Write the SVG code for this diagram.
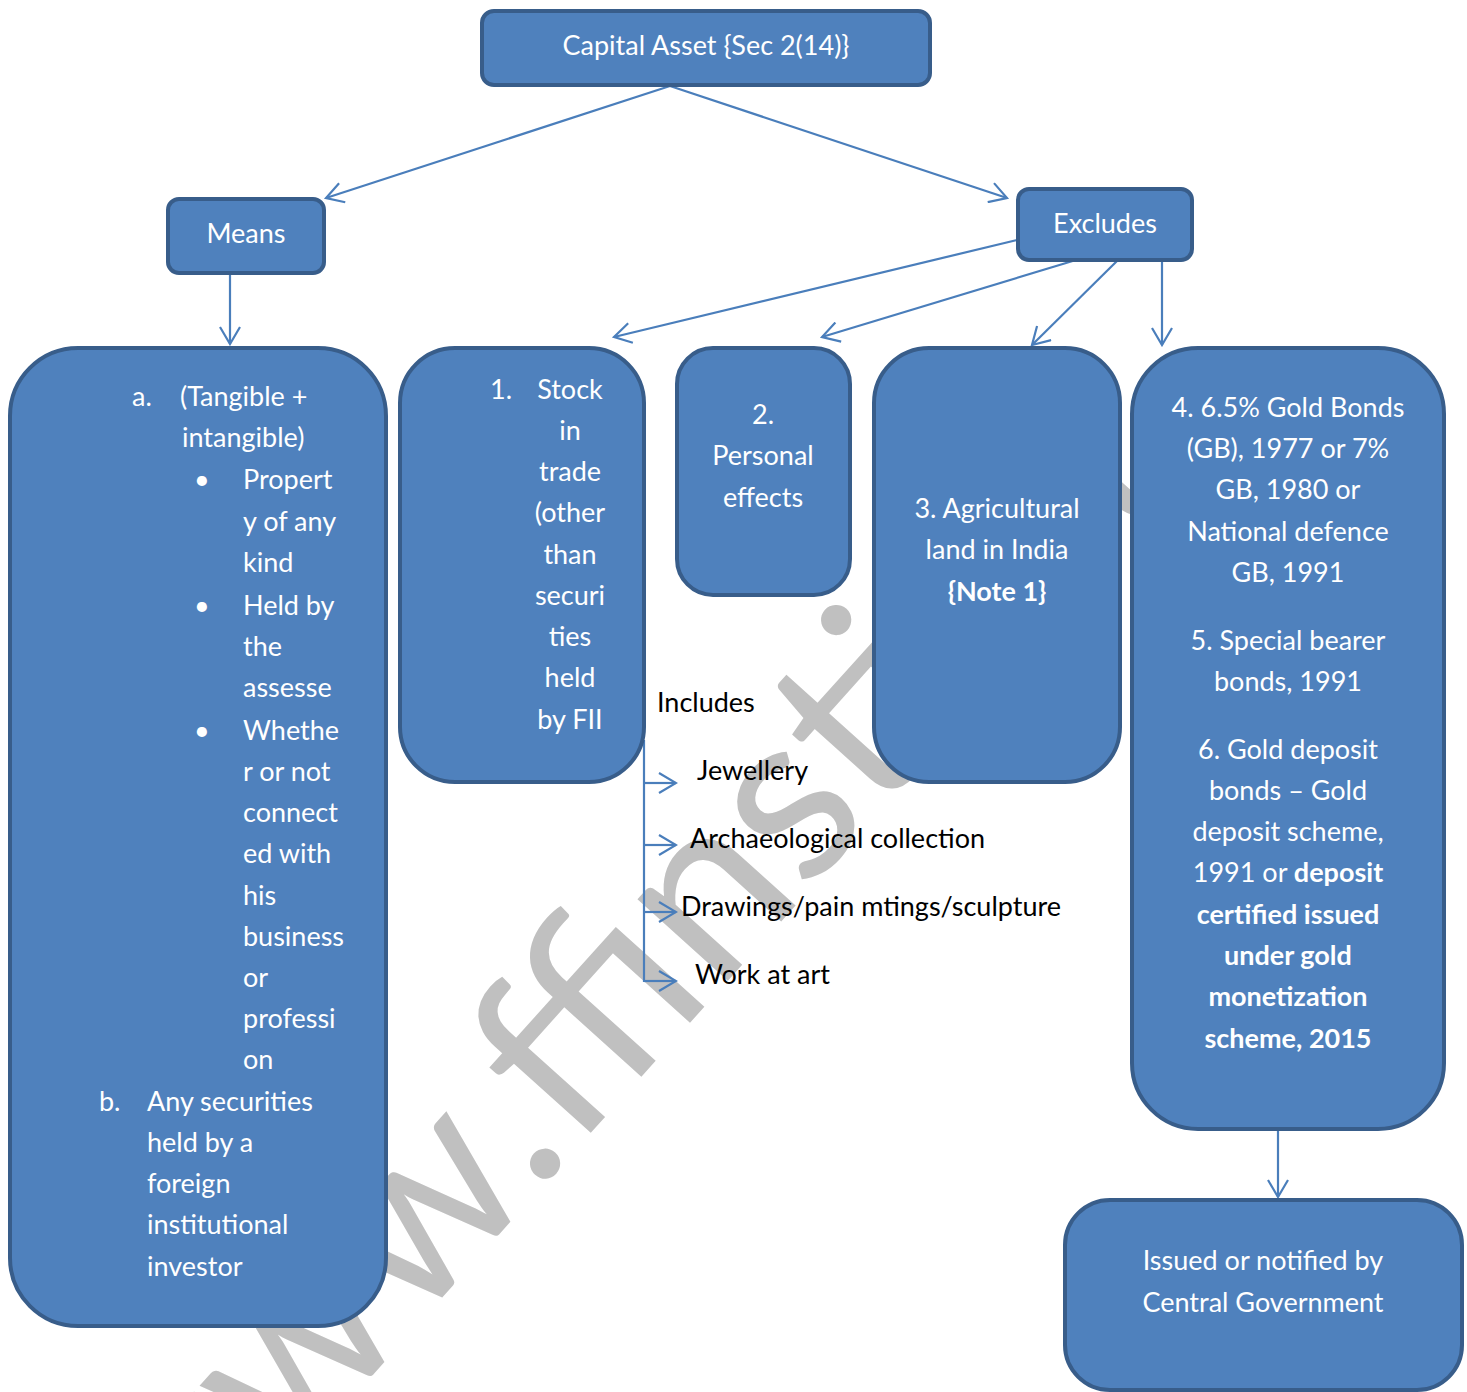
<svg xmlns="http://www.w3.org/2000/svg" width="1467" height="1392" viewBox="0 0 1467 1392">
<defs>
<marker id="arr" viewBox="0 0 20 22" refX="18" refY="11" markerWidth="20" markerHeight="22" markerUnits="userSpaceOnUse" orient="auto">
<path d="M1,1 L18,11 L1,21" fill="none" stroke="#4A7EBB" stroke-width="2.2"/>
</marker>
<style>
.box{fill:#4F81BD;stroke:#385D8A;stroke-width:4}
.t{font-family:Lato,"Noto Sans",sans-serif;font-size:27px;fill:#FFFFFF}
.c{text-anchor:middle}
.b{font-weight:bold}
.k{font-family:Lato,"Noto Sans",sans-serif;font-size:27px;fill:#000000}
.ln{fill:none;stroke:#4A7EBB;stroke-width:2.2}
.wm{font-family:Lato,"Noto Sans",sans-serif;font-size:240px;fill:#C0C0C0}
</style>
</defs>
<rect width="1467" height="1392" fill="#FFFFFF"/>
<text class="wm" transform="translate(161,1610) rotate(-48)">www.ffinstitut</text>

<g id="connectors">
<line class="ln" x1="670" y1="86" x2="326" y2="198" marker-end="url(#arr)"/>
<line class="ln" x1="670" y1="86" x2="1007" y2="198" marker-end="url(#arr)"/>
<line class="ln" x1="230" y1="274" x2="230" y2="344" marker-end="url(#arr)"/>
<line class="ln" x1="1017" y1="240" x2="614" y2="337" marker-end="url(#arr)"/>
<line class="ln" x1="1076" y1="260" x2="822" y2="337" marker-end="url(#arr)"/>
<line class="ln" x1="1118" y1="260" x2="1032" y2="345" marker-end="url(#arr)"/>
<line class="ln" x1="1162" y1="260" x2="1162" y2="345" marker-end="url(#arr)"/>
<line class="ln" x1="1278" y1="1131" x2="1278" y2="1197" marker-end="url(#arr)"/>
<path class="ln" d="M644,740 L644,982"/>
<line class="ln" x1="644" y1="783" x2="676" y2="783" marker-end="url(#arr)"/>
<line class="ln" x1="644" y1="845" x2="676" y2="845" marker-end="url(#arr)"/>
<line class="ln" x1="644" y1="912" x2="676" y2="912" marker-end="url(#arr)"/>
<line class="ln" x1="644" y1="981" x2="676" y2="981" marker-end="url(#arr)"/>
</g>

<g id="capital-asset">
<rect class="box" x="482" y="11" width="448" height="74" rx="12"/>
<text class="t c" x="706" y="55">Capital Asset {Sec 2(14)}</text>
</g>

<g id="means">
<rect class="box" x="168" y="199" width="156" height="74" rx="11"/>
<text class="t c" x="246" y="243">Means</text>
</g>

<g id="excludes">
<rect class="box" x="1018" y="189" width="174" height="71" rx="11"/>
<text class="t c" x="1105" y="233">Excludes</text>
</g>

<g id="means-detail">
<rect class="box" x="10" y="348" width="376" height="978" rx="68"/>
<text class="t" x="132" y="406">a.</text>
<text class="t" x="180" y="406">(Tangible +</text>
<text class="t" x="182" y="447">intangible)</text>
<text class="t" x="194" y="489">•</text>
<text class="t" x="243" y="489">Propert</text>
<text class="t" x="243" y="531">y of any</text>
<text class="t" x="243" y="572">kind</text>
<text class="t" x="194" y="615">•</text>
<text class="t" x="243" y="615">Held by</text>
<text class="t" x="243" y="656">the</text>
<text class="t" x="243" y="697">assesse</text>
<text class="t" x="194" y="740">•</text>
<text class="t" x="243" y="740">Whethe</text>
<text class="t" x="243" y="781">r or not</text>
<text class="t" x="243" y="822">connect</text>
<text class="t" x="243" y="863">ed with</text>
<text class="t" x="243" y="905">his</text>
<text class="t" x="243" y="946">business</text>
<text class="t" x="243" y="987">or</text>
<text class="t" x="243" y="1028">professi</text>
<text class="t" x="243" y="1069">on</text>
<text class="t" x="99" y="1111">b.</text>
<text class="t" x="147" y="1111">Any securities</text>
<text class="t" x="147" y="1152">held by a</text>
<text class="t" x="147" y="1193">foreign</text>
<text class="t" x="147" y="1234">institutional</text>
<text class="t" x="147" y="1276">investor</text>
</g>

<g id="stock-in-trade">
<rect class="box" x="400" y="348" width="244" height="434" rx="55"/>
<text class="t" x="490" y="399">1.</text>
<text class="t c" x="570" y="399">Stock</text>
<text class="t c" x="570" y="440">in</text>
<text class="t c" x="570" y="481">trade</text>
<text class="t c" x="570" y="522">(other</text>
<text class="t c" x="570" y="564">than</text>
<text class="t c" x="570" y="605">securi</text>
<text class="t c" x="570" y="646">ties</text>
<text class="t c" x="570" y="687">held</text>
<text class="t c" x="570" y="729">by FII</text>
</g>

<g id="personal-effects">
<rect class="box" x="677" y="348" width="173" height="247" rx="36"/>
<text class="t c" x="763" y="424">2.</text>
<text class="t c" x="763" y="465">Personal</text>
<text class="t c" x="763" y="507">effects</text>
</g>

<g id="agricultural-land">
<rect class="box" x="874" y="348" width="246" height="434" rx="55"/>
<text class="t c" x="997" y="518">3. Agricultural</text>
<text class="t c" x="997" y="559">land in India</text>
<text class="t c b" x="997" y="601">{Note 1}</text>
</g>

<g id="gold-bonds">
<rect class="box" x="1132" y="348" width="312" height="781" rx="66"/>
<text class="t c" x="1288" y="417">4. 6.5% Gold Bonds</text>
<text class="t c" x="1288" y="458">(GB), 1977 or 7%</text>
<text class="t c" x="1288" y="499">GB, 1980 or</text>
<text class="t c" x="1288" y="541">National defence</text>
<text class="t c" x="1288" y="582">GB, 1991</text>
<text class="t c" x="1288" y="650">5. Special bearer</text>
<text class="t c" x="1288" y="691">bonds, 1991</text>
<text class="t c" x="1288" y="759">6. Gold deposit</text>
<text class="t c" x="1288" y="800">bonds – Gold</text>
<text class="t c" x="1288" y="841">deposit scheme,</text>
<text class="t c" x="1288" y="882">1991 or <tspan class="b">deposit</tspan></text>
<text class="t c b" x="1288" y="924">certified issued</text>
<text class="t c b" x="1288" y="965">under gold</text>
<text class="t c b" x="1288" y="1006">monetization</text>
<text class="t c b" x="1288" y="1048">scheme, 2015</text>
</g>

<g id="central-government">
<rect class="box" x="1065" y="1200" width="397" height="190" rx="45"/>
<text class="t c" x="1263" y="1270">Issued or notified by</text>
<text class="t c" x="1263" y="1312">Central Government</text>
</g>

<g id="includes">
<text class="k" x="657" y="712">Includes</text>
<text class="k" x="697" y="780">Jewellery</text>
<text class="k" x="690" y="848">Archaeological collection</text>
<text class="k" x="681" y="916">Drawings/pain mtings/sculpture</text>
<text class="k" x="695" y="984">Work at art</text>
</g>
</svg>
